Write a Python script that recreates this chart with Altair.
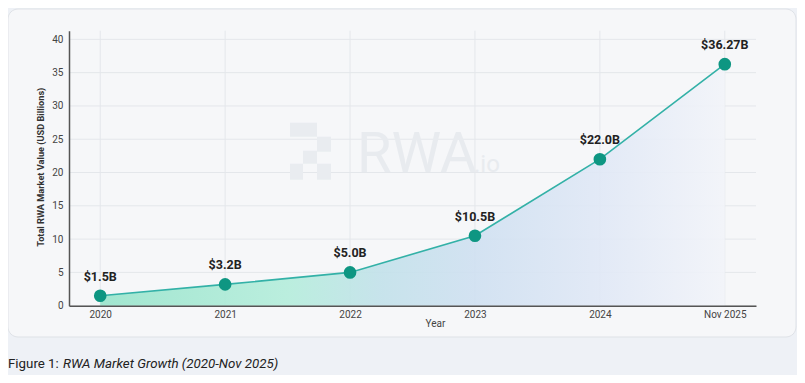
import altair as alt
import pandas as pd

years = ["2020", "2021", "2022", "2023", "2024", "Nov 2025"]
values = [1.5, 3.2, 5.0, 10.5, 22.0, 36.27]
labels = ["$1.5B", "$3.2B", "$5.0B", "$10.5B", "$22.0B", "$36.27B"]
y_ticks = [0, 5, 10, 15, 20, 25, 30, 35, 40]

df = pd.DataFrame({"year": years, "value": values, "label": labels})
ydf = pd.DataFrame({"value": y_ticks})
xdf = pd.DataFrame({"year": years})
one = pd.DataFrame({"k": [0]})

# watermark logo blocks (decoration, pixels relative to plot area)
logo_blocks = [(221, 248, 92, 106), (248, 262, 106, 121), (234, 248, 120, 133),
               (221, 234, 133, 149), (248, 262, 133, 149)]

FONT = "Roboto"
GRID = "#e4e7eb"
xs = alt.Scale(type="point", padding=0.25, domain=years)
ys = alt.Scale(domain=[0, 41.3], nice=False, zero=True)

x_enc = alt.X("year:O", sort=years, scale=xs,
              axis=alt.Axis(title="Year", labelAngle=0, ticks=False, labelPadding=4, grid=False,
                            labelFontSize=10, labelColor="#444444", labelFont=FONT,
                            domainColor="#555555", domainWidth=1.5, zindex=2,
                            titleX=366, titleY=18, titleBaseline="middle", titleAlign="center",
                            titleFontSize=10, titleFontWeight="normal", titleColor="#444444",
                            titleFont=FONT))
y_enc = alt.Y("value:Q", scale=ys,
              axis=alt.Axis(title="Total RWA Market Value (USD Billions)", values=y_ticks,
                            ticks=False, labelPadding=6, labelFontSize=10, grid=False,
                            labelColor="#444444", labelFont=FONT,
                            domainColor="#555555", domainWidth=1.5, zindex=2,
                            titleX=-29, titleY=136, titleAngle=-90, titleBaseline="middle",
                            titleAlign="center", titleFontSize=9.2, titleFontWeight="bold",
                            titleColor="#333333", titleFont=FONT))

card = alt.Chart(one).mark_rect(fill="#f6f7f9", stroke="#dfe2e7", strokeWidth=1,
                                cornerRadius=10).encode(
    x=alt.value(-61), x2=alt.value(727), y=alt.value(-21.7), y2=alt.value(306.3))

hgrid = alt.Chart(ydf).mark_rule(color=GRID, strokeWidth=1).encode(
    y=y_enc, x=alt.value(0), x2=alt.value(687))
vgrid = alt.Chart(xdf).mark_rule(color=GRID, strokeWidth=1).encode(
    x=x_enc, y=alt.value(0), y2=alt.value(275))

logo_layers = [
    alt.Chart(one).mark_rect(fill="#e9ecf0").encode(
        x=alt.value(a), x2=alt.value(b), y=alt.value(c), y2=alt.value(d))
    for (a, b, c, d) in logo_blocks
]
wm = alt.Chart(one).mark_text(text="RWA", font=FONT, fontSize=56, color="#e8ebef",
                              align="left", baseline="alphabetic").encode(
    x=alt.value(288), y=alt.value(141))
wm2 = alt.Chart(one).mark_text(text=".io", font=FONT, fontSize=24, color="#e8ebef",
                               align="left", baseline="alphabetic").encode(
    x=alt.value(405), y=alt.value(141))

grad = alt.Gradient(gradient="linear", x1=0, x2=1, y1=0, y2=0, stops=[
    alt.GradientStop(color="#98e4cb", offset=0),
    alt.GradientStop(color="#b4eddb", offset=0.3),
    alt.GradientStop(color="#c2e1ea", offset=0.45),
    alt.GradientStop(color="#cfe0f1", offset=0.6),
    alt.GradientStop(color="#e0e8f6", offset=0.8),
    alt.GradientStop(color="#f2f4f9", offset=1.0),
])

base = alt.Chart(df)
area = base.mark_area(fill=grad, opacity=0.9).encode(x=x_enc, y=y_enc)
line = base.mark_line(color="#33b1a7", strokeWidth=1.6).encode(x=x_enc, y=y_enc)
pts = base.mark_circle(color="#0e9682", size=160, opacity=1).encode(x=x_enc, y=y_enc)
txt = base.mark_text(dy=-19, font=FONT, fontSize=12.5, fontWeight="bold",
                     color="#222222", baseline="middle").encode(
    x=x_enc, y=y_enc, text="label:N")

cap1 = alt.Chart(one).mark_text(text="Figure 1: ", font=FONT, fontSize=13.3,
                                color="#222222", align="left", baseline="middle").encode(
    x=alt.value(-61), y=alt.value(333.3))
cap2 = alt.Chart(one).mark_text(text="RWA Market Growth (2020-Nov 2025)", font=FONT,
                                fontSize=13.3, fontStyle="italic", color="#222222",
                                align="left", baseline="middle").encode(
    x=alt.value(-6), y=alt.value(333.3))

chart = alt.layer(card, hgrid, vgrid, *logo_layers, wm, wm2, area, line, pts, txt,
                  cap1, cap2).properties(
    width=687, height=275,
    autosize=alt.AutoSizeParams(type="none"),
    padding={"left": 61, "top": 22.7, "right": 41, "bottom": 69.3},
    background="#eef1f6",
).configure_view(stroke=None)

chart.save("out.html", embed_options={"renderer": "svg", "actions": False})
